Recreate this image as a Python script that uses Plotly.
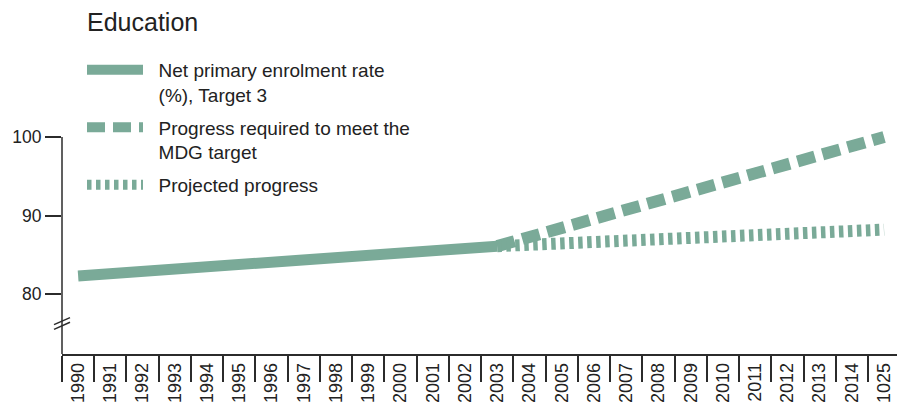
import plotly.graph_objects as go

years = [str(y) for y in range(1990, 2015)] + ["1025"]
actual_x = ["1990", "2003"]
actual_y = [82.3, 86.1]
required_x = ["2003", "1025"]
required_y = [86.1, 100.0]
projected_x = ["2003", "1025"]
projected_y = [86.1, 88.2]
y_ticks = [80, 90, 100]

COL = "#7aaa98"
AX = "#2b2b2b"
FONT = "Liberation Sans, Arial, sans-serif"
PAD = "\u00a0\u00a0"

fig = go.Figure()
fig.add_trace(go.Scatter(x=actual_x, y=actual_y, mode="lines", legendgroup="a",
                         name=PAD + "Net primary enrolment rate<br>" + PAD + "(%), Target 3",
                         line=dict(color=COL, width=11)))
fig.add_trace(go.Scatter(x=required_x, y=required_y, mode="lines", legendgroup="b",
                         name=PAD + "Progress required to meet the<br>" + PAD + "MDG target",
                         line=dict(color=COL, width=12, dash="18px,8px")))
fig.add_trace(go.Scatter(x=projected_x, y=projected_y, mode="lines", legendgroup="c",
                         name=PAD + "Projected progress",
                         line=dict(color=COL, width=12, dash="4.5px,4.5px")))

# y axis line (stops at 100) and break marks
fig.add_shape(type="line", xref="x domain", yref="y", x0=0, x1=0, y0=72.36, y1=100,
              line=dict(color=AX, width=1.5))
for yb in (76.55, 75.95):
    fig.add_shape(type="line", xref="x domain", yref="y",
                  x0=-8 / 835, x1=8 / 835, y0=yb - 0.45, y1=yb + 0.45,
                  line=dict(color=AX, width=1.5))

fig.update_layout(
    width=897, height=407,
    margin=dict(l=62, r=0, t=121, b=53, autoexpand=False),
    paper_bgcolor="white", plot_bgcolor="white",
    title=dict(text="Education", x=87 / 897, xref="container", xanchor="left",
               y=1 - 22 / 407, yref="container", yanchor="middle",
               font=dict(family=FONT, size=25, color="#222")),
    showlegend=True,
    legend=dict(x=20 / 835, y=1 + 70 / 233, xanchor="left", yanchor="top",
                font=dict(family=FONT, size=19, color="#222"),
                itemwidth=56, valign="top", bgcolor="rgba(0,0,0,0)",
                tracegroupgap=5),
    xaxis=dict(type="category", categoryorder="array", categoryarray=years,
               range=[-0.5, 25.4], tickson="boundaries", ticks="outside",
               ticklen=26, tickwidth=1.5, tickcolor=AX, showline=True,
               linecolor=AX, linewidth=1.5, showgrid=False, zeroline=False,
               tickangle=-90, ticklabelstandoff=0, automargin=False,
               tickfont=dict(family=FONT, size=18, color="#222")),
    yaxis=dict(range=[72.36, 102.04], tickvals=y_ticks, ticks="outside",
               ticklen=16, tickwidth=1.5, tickcolor=AX, showline=False,
               showgrid=False, zeroline=False, automargin=False,
               tickfont=dict(family=FONT, size=17.5, color="#222")),
)

fig.write_html("out.html", config={"displayModeBar": False},
               post_script="document.body.style.margin='0';document.body.style.overflow='hidden';")
